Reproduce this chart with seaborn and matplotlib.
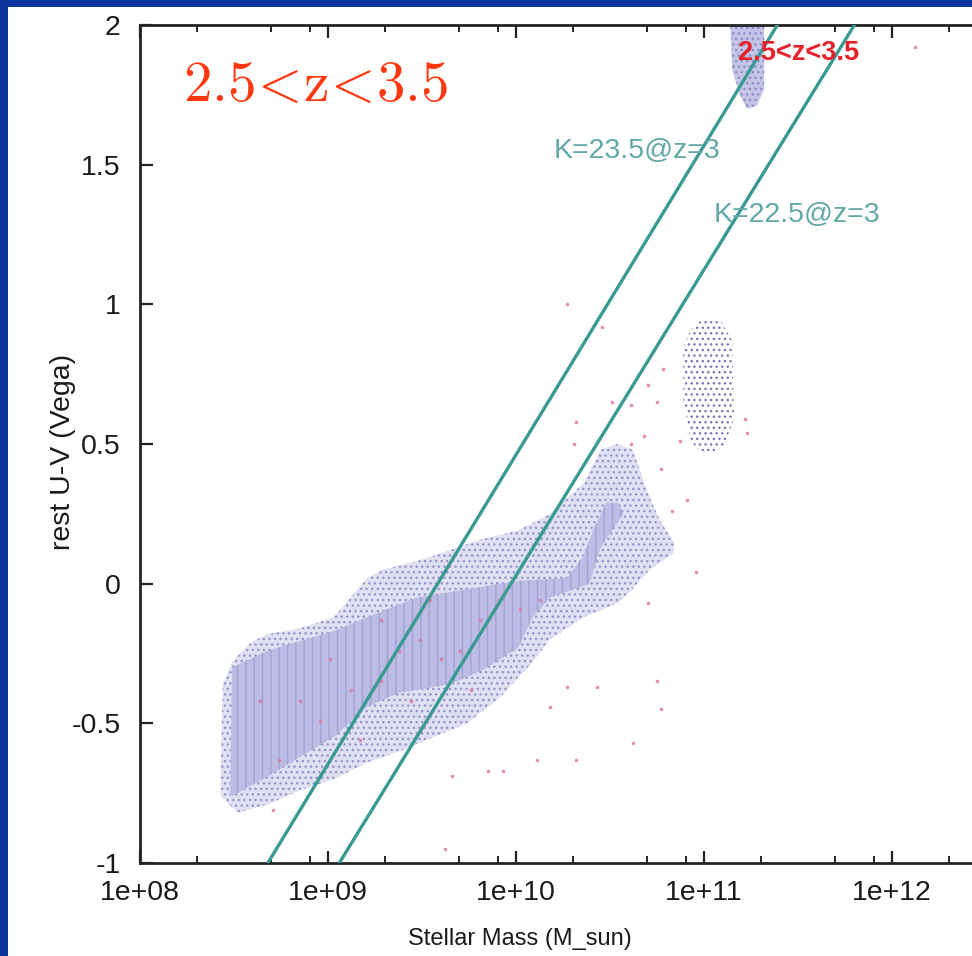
import numpy as np
import pandas as pd
import matplotlib
matplotlib.use("Agg")
import matplotlib.pyplot as plt
import seaborn as sns
from matplotlib.patches import Rectangle
from matplotlib.ticker import LogLocator, FuncFormatter, NullFormatter

# ---------------- data (log10 stellar mass, rest U-V) ----------------
# outer density contour
outer_logm = [8.43, 8.43, 8.44, 8.49, 8.59, 8.68, 8.85, 9.03, 9.12, 9.21, 9.29, 9.47, 9.65,
              9.82, 10.01, 10.18, 10.36, 10.45, 10.54, 10.62, 10.71, 10.77, 10.84, 10.84,
              10.71, 10.62, 10.54, 10.36, 10.18, 10.09, 9.91, 9.74, 9.56, 9.38, 9.21, 9.03,
              8.85, 8.68, 8.52]
outer_uv = [-0.76, -0.64, -0.36, -0.28, -0.21, -0.18, -0.16, -0.12, -0.05, 0.02, 0.05, 0.08, 0.12,
            0.16, 0.19, 0.25, 0.36, 0.48, 0.50, 0.48, 0.31, 0.22, 0.15, 0.11,
            0.05, -0.02, -0.07, -0.12, -0.20, -0.28, -0.41, -0.50, -0.55, -0.60, -0.64, -0.70,
            -0.74, -0.79, -0.82]
# inner (denser) contour
inner_logm = [8.48, 8.49, 8.68, 9.03, 9.21, 9.47, 9.74, 10.01, 10.27, 10.36, 10.41, 10.48, 10.54,
              10.57, 10.45, 10.39, 10.18, 10.09, 10.01, 9.82, 9.65, 9.38, 9.21, 9.03, 8.85, 8.68, 8.49]
inner_uv = [-0.76, -0.30, -0.24, -0.17, -0.12, -0.05, -0.02, 0.01, 0.02, 0.10, 0.19, 0.29, 0.29,
            0.25, 0.13, 0.00, -0.05, -0.12, -0.23, -0.31, -0.36, -0.39, -0.44, -0.55, -0.62, -0.69, -0.76]
# red-galaxy clump near 1e11
clump_logm = [10.98, 11.09, 11.15, 11.16, 11.11, 11.06, 10.98, 10.93, 10.89, 10.89, 10.93]
clump_uv = [0.94, 0.94, 0.87, 0.59, 0.50, 0.47, 0.47, 0.51, 0.66, 0.85, 0.91]
# clump at the top edge
top_logm = [11.14, 11.32, 11.32, 11.28, 11.23, 11.19, 11.15]
top_uv = [2.00, 2.00, 1.77, 1.71, 1.70, 1.75, 1.84]
# individual galaxies
dots_logm = [10.27, 10.46, 10.78, 10.70, 10.51, 10.61, 10.75, 10.32, 10.68, 10.31, 10.61, 10.87,
             11.22, 11.23, 10.77, 10.91, 10.83, 12.12, 10.70, 10.77, 10.62, 10.43, 10.27, 10.18,
             10.11, 9.85, 9.93, 9.66, 10.32, 8.71, 10.75, 10.96, 9.62,
             8.85, 8.96, 9.12, 9.28, 9.38, 9.49, 9.60, 9.70, 9.81, 9.91, 10.02, 10.13, 9.17,
             8.74, 8.64, 9.44, 9.76, 9.28, 9.01, 9.54]
dots_uv = [1.00, 0.92, 0.77, 0.71, 0.65, 0.64, 0.65, 0.58, 0.53, 0.50, 0.50, 0.51,
           0.59, 0.54, 0.41, 0.30, 0.26, 1.92, -0.07, -0.45, -0.57, -0.37, -0.37, -0.44,
           -0.63, -0.67, -0.67, -0.69, -0.63, -0.81, -0.35, 0.04, -0.95,
           -0.42, -0.49, -0.38, -0.35, -0.24, -0.20, -0.27, -0.24, -0.13, -0.06, -0.09, -0.06, -0.56,
           -0.63, -0.42, -0.42, -0.38, -0.13, -0.27, -0.06]
# K-band limit lines (log mass at U-V = -1 and U-V = 2)
line_uv = [-1.0, 2.0]
k235_logm = [8.68, 11.39]
k225_logm = [9.06, 11.80]

y_ticks = [-1, -0.5, 0, 0.5, 1, 1.5, 2]

# ---------------- style ----------------
sns.set_style("ticks")
plt.rcParams["font.family"] = ["Liberation Sans", "DejaVu Sans"]
plt.rcParams["mathtext.fontset"] = "cm"
plt.rcParams["axes.unicode_minus"] = False
plt.rcParams["hatch.linewidth"] = 1.0

teal = "#3a9a92"
teal_txt = "#62a8a6"

fig = plt.figure(figsize=(9.72, 9.56), dpi=100)
fig.patch.set_facecolor("#0a369e")
fig.add_artist(Rectangle((8 / 972, 0), 1.0, (956 - 7) / 956, transform=fig.transFigure,
                         facecolor="white", edgecolor="none", zorder=0))

ax = fig.add_axes([140 / 972, 93 / 956, 835 / 972, 838 / 956])
ax.set_facecolor("none")
ax.set_xscale("log")

m = lambda a: 10 ** np.asarray(a)

# density regions
ax.fill(m(outer_logm), outer_uv, facecolor="#e0e0f2", edgecolor="none", zorder=1)
ax.fill(m(outer_logm), outer_uv, facecolor="none", edgecolor="#9494ce", hatch="...",
        linewidth=0, zorder=1.1)
ax.fill(m(inner_logm), inner_uv, facecolor="#bcbce4", edgecolor="none", zorder=1.2)
ax.fill(m(inner_logm), inner_uv, facecolor="none", edgecolor="#a2a2d6", hatch="||",
        linewidth=0, zorder=1.3)
ax.fill(m(clump_logm), clump_uv, facecolor="none", edgecolor="#7878b8", hatch="...",
        linewidth=0, zorder=1.1)
ax.fill(m(top_logm), top_uv, facecolor="#c4c4e6", edgecolor="none", zorder=1.2)
ax.fill(m(top_logm), top_uv, facecolor="none", edgecolor="#8c8cc8", hatch="...",
        linewidth=0, zorder=1.3)

# individual points
sns.scatterplot(x=m(dots_logm), y=dots_uv, s=7, color="#d87898", linewidth=0,
                alpha=0.8, ax=ax, zorder=3, legend=False)

# limit lines
lines_df = pd.DataFrame({
    "mass": np.r_[m(k235_logm), m(k225_logm)],
    "uv": line_uv * 2,
    "K": ["23.5"] * 2 + ["22.5"] * 2,
})
sns.lineplot(data=lines_df, x="mass", y="uv", hue="K", palette={"23.5": teal, "22.5": teal},
             estimator=None, sort=False, linewidth=2.4, ax=ax, legend=False, zorder=4)

# texts
ax.text(m(10.20), 1.55, "K=23.5@z=3", color=teal_txt, fontsize=20.5, va="center", ha="left", zorder=5)
ax.text(m(11.05), 1.32, "K=22.5@z=3", color=teal_txt, fontsize=20.5, va="center", ha="left", zorder=5)
ax.text(m(11.18), 1.90, "2.5<z<3.5", color="#e8202a", fontsize=19.5, fontweight="bold",
        va="center", ha="left", zorder=5)
ax.text(m(8.23), 1.78, r"$\mathrm{2.5}\!<\!\mathrm{z}\!<\!\mathrm{3.5}$", color="#ff3810",
        fontsize=41, va="center", ha="left", zorder=5)

# axes
ax.set_xlim(1e8, m(8 + 835 / 188))
ax.set_ylim(-1, 2)
ax.xaxis.set_major_locator(LogLocator(base=10, numticks=20))
ax.xaxis.set_minor_locator(LogLocator(base=10, subs=[2, 5, 8], numticks=20))
ax.xaxis.set_major_formatter(FuncFormatter(lambda v, p: f"{v:.0e}"))
ax.xaxis.set_minor_formatter(NullFormatter())
ax.set_yticks(y_ticks)
ax.yaxis.set_major_formatter(FuncFormatter(lambda v, p: f"{v:g}"))

ax.tick_params(which="both", direction="in", top=True, right=False, color="#222222",
               labelsize=20.5, labelcolor="#1a1a1a")
ax.tick_params(which="major", length=9, width=1.6)
ax.tick_params(which="minor", length=5, width=1.4)
ax.tick_params(axis="y", pad=14)
ax.tick_params(axis="x", pad=12)

for side in ["left", "bottom", "top"]:
    ax.spines[side].set_linewidth(2.0)
    ax.spines[side].set_color("#222222")
ax.spines["right"].set_visible(False)

ax.set_xlabel("Stellar Mass (M_sun)", fontsize=17, color="#1a1a1a")
ax.xaxis.set_label_coords(0.455, -0.077)
ax.set_ylabel("rest U-V (Vega)", fontsize=20.5, color="#1a1a1a")
ax.yaxis.set_label_coords(-0.077, 0.49)

fig.savefig("out.png", dpi=100, facecolor=fig.get_facecolor())
